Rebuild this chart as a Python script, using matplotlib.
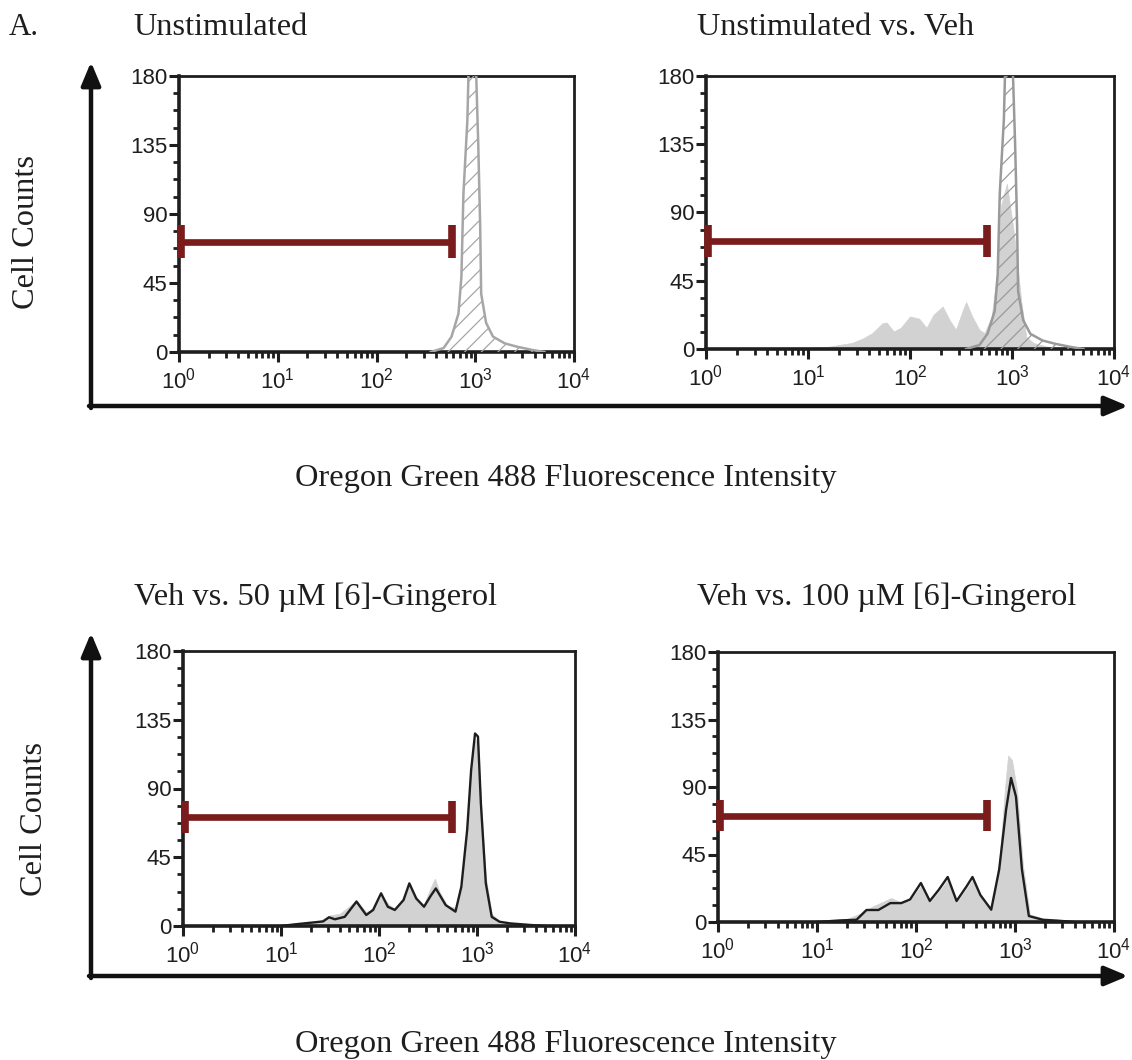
import numpy as np
import matplotlib
matplotlib.use('Agg')
import matplotlib.pyplot as plt
from matplotlib.patches import FancyArrowPatch, ArrowStyle
from matplotlib.ticker import FixedLocator, LogLocator, NullFormatter, FixedFormatter, MultipleLocator

W, H = 1132, 1060
plt.rcParams['mathtext.fontset'] = 'custom'
plt.rcParams['mathtext.rm'] = 'Liberation Sans'
plt.rcParams['mathtext.default'] = 'regular'
plt.rcParams['hatch.linewidth'] = 0.9

# ---------------- data (intensity, cell counts) ----------------
unstim_int = [355, 479, 575, 676, 724, 759, 832, 891, 977, 1023, 1072, 1122, 1148, 1288, 1514, 1995, 2630, 3800, 5012]
unstim_cnt = [0, 2.6, 10, 25, 49, 103, 151, 230, 230, 180, 136, 82, 38, 19, 10, 5.6, 3.5, 1.3, 0]

veh_int = [6.2, 15.8, 26.9, 34.7, 42.7, 53.7, 58.9, 69.2, 81.3, 100, 123, 145, 170, 209, 245, 282, 331, 355,
           407, 479, 537, 631, 724, 776, 891, 1047, 1230, 1380, 1622, 2291, 3715, 5012]
veh_cnt = [0, 1.5, 4, 7, 10.5, 17, 17.5, 11.6, 14, 21.5, 20, 14, 22.6, 28, 19, 12.7, 26, 31,
           21.5, 12.7, 10.5, 21, 54, 94, 109, 76, 32, 8, 4, 1.3, 0.4, 0]

veh50_int = [7.9, 15.8, 25.1, 31.6, 39.8, 50.1, 58.9, 74.1, 89.1, 107, 126, 148, 178, 204, 240, 288, 331, 372,
             417, 501, 603, 692, 794, 871, 955, 1023, 1096, 1230, 1413, 1698, 2512, 3981]
veh50_cnt = [0, 1, 3.5, 7, 8, 13, 17, 9, 12, 20, 14, 11, 19, 26, 17, 14, 24, 31,
             22, 13, 12, 28, 65, 100, 122, 120, 82, 32, 8, 3, 1, 0]

g50_int = [10, 13.5, 26.9, 30.9, 35.5, 44.7, 58.9, 74.1, 87.1, 105, 123, 145, 178, 204, 240, 288, 339, 380,
           479, 603, 692, 794, 871, 955, 1023, 1096, 1230, 1413, 1698, 2188, 3631, 5012]
g50_cnt = [0, 1, 3, 5.7, 4.4, 6, 16, 7.2, 10.5, 21.4, 12.6, 10.5, 17, 27.9, 18, 12.6, 20, 24.6,
           13.7, 9.4, 25.7, 63, 102, 126, 124, 80, 28, 6, 2.8, 1.7, 0.6, 0]

veh100_int = [7.9, 14.1, 20, 28.2, 35.5, 44.7, 56.2, 70.8, 87.1, 112, 138, 170, 209, 257, 324, 372, 447,
              575, 692, 794, 851, 933, 1047, 1202, 1413, 1995, 2818, 3981]
veh100_cnt = [0, 1, 2, 6, 10, 13, 16, 13, 14, 24, 13, 20, 28, 13, 22, 28, 17,
              9, 38, 90, 111, 108, 88, 38, 5, 2, 1, 0]

g100_int = [10, 16.6, 25.1, 31.6, 41.7, 55, 70.8, 87.1, 112, 138, 170, 209, 257, 324, 372, 447, 575,
            692, 813, 912, 1023, 1175, 1380, 1905, 2692, 3981]
g100_cnt = [0, 1, 1.5, 8, 8, 12.6, 12.6, 15, 26, 14, 21.5, 30, 14, 23.7, 30, 18, 8.2,
            35, 75, 96, 83.6, 35, 4, 1.5, 0.9, 0]

gate_lo = [1.05, 1.05, 1.05, 1.05]
gate_hi = [575, 570, 550, 525]
gate_y = [72, 71, 71.5, 71]

titles = ["Unstimulated", "Unstimulated vs. Veh",
          "Veh vs. 50 \u00b5M [6]-Gingerol", "Veh vs. 100 \u00b5M [6]-Gingerol"]
ytick_vals = [0, 45, 90, 135, 180]
xtick_vals = [1, 10, 100, 1000, 10000]
xtick_labels = [r'$10^{%d}$' % i for i in range(5)]

# ---------------- figure ----------------
fig = plt.figure(figsize=(W / 100, H / 100), dpi=100)
SERIF = 'Liberation Serif'
SANS = 'Liberation Sans'
DARK = '#1e1e1e'
RED = '#7a1c1c'
FS = 23.3


def px_axes(l, r, t, b):
    return fig.add_axes([l / W, 1 - b / H, (r - l) / W, (b - t) / H])


def style(ax):
    ax.set_xscale('log')
    ax.set_xlim(1, 1e4)
    ax.set_ylim(0, 180)
    ax.xaxis.set_major_locator(FixedLocator(xtick_vals))
    ax.xaxis.set_major_formatter(FixedFormatter(xtick_labels))
    ax.xaxis.set_minor_locator(LogLocator(base=10, subs=np.arange(2, 10)))
    ax.xaxis.set_minor_formatter(NullFormatter())
    ax.yaxis.set_major_locator(FixedLocator(ytick_vals))
    ax.yaxis.set_minor_locator(MultipleLocator(11.25))
    ax.set_yticklabels([str(v) for v in ytick_vals])
    for s in ['left', 'bottom']:
        ax.spines[s].set_linewidth(2.6)
        ax.spines[s].set_color(DARK)
    for s in ['top', 'right']:
        ax.spines[s].set_linewidth(2.0)
        ax.spines[s].set_color(DARK)
    ax.tick_params(which='major', direction='out', length=7.0, width=2.2, color=DARK,
                   labelsize=16, labelcolor=DARK)
    ax.tick_params(which='minor', direction='out', length=4.5, width=2.0, color=DARK)
    ax.tick_params(axis='y', which='major', pad=1.2)
    ax.tick_params(axis='x', which='major', pad=4.5)
    for lab in ax.get_xticklabels() + ax.get_yticklabels():
        lab.set_fontfamily(SANS)
    ax.set_facecolor('white')


def gate(ax, i):
    ax.plot([gate_lo[i], gate_hi[i]], [gate_y[i], gate_y[i]], color=RED, lw=4.8,
            solid_capstyle='butt', clip_on=False, zorder=5)
    for xv in (gate_lo[i], gate_hi[i]):
        ax.plot([xv, xv], [gate_y[i] - 10.5, gate_y[i] + 10.5], color=RED, lw=5.5,
                solid_capstyle='butt', clip_on=False, zorder=5)


def hatched(ax, edge):
    ax.fill_between(unstim_int, unstim_cnt, 0, facecolor='none', edgecolor=edge,
                    hatch='//', linewidth=0, zorder=3)
    ax.plot(unstim_int, unstim_cnt, color=edge, lw=1.8, zorder=3.5)


def filled(ax, xs, ys, color='#d2d2d2'):
    ax.fill_between(xs, ys, 0, facecolor=color, edgecolor=color, linewidth=0.5, zorder=2)


# Top-left
ax1 = px_axes(179, 574, 76, 352)
style(ax1)
hatched(ax1, '#a6a6a6')
gate(ax1, 0)

# Top-right
ax2 = px_axes(706, 1114, 76, 349)
style(ax2)
filled(ax2, veh_int, veh_cnt)
hatched(ax2, '#9a9a9a')
gate(ax2, 1)

# Bottom-left
ax3 = px_axes(183, 575, 651, 926)
style(ax3)
filled(ax3, veh50_int, veh50_cnt)
ax3.plot(g50_int, g50_cnt, color=DARK, lw=1.7, zorder=3)
gate(ax3, 2)

# Bottom-right
ax4 = px_axes(718, 1114, 652, 922)
style(ax4)
filled(ax4, veh100_int, veh100_cnt)
ax4.plot(g100_int, g100_cnt, color=DARK, lw=1.7, zorder=3)
gate(ax4, 3)

# ---------------- text ----------------
def ftext(x, y, s, **kw):
    fig.text(x / W, 1 - y / H, s, **kw)

ftext(9, 35, "A.", fontsize=FS - 1, family=SERIF, va='baseline', ha='left', color=DARK)
ftext(133, 35, titles[0], fontsize=FS, family=SERIF, va='baseline', ha='left', color=DARK)
ftext(697, 35, titles[1], fontsize=FS, family=SERIF, va='baseline', ha='left', color=DARK)
ftext(134, 605, titles[2], fontsize=FS, family=SERIF, va='baseline', ha='left', color=DARK)
ftext(697, 605, titles[3], fontsize=FS, family=SERIF, va='baseline', ha='left', color=DARK)

xl = "Oregon Green 488 Fluorescence Intensity"
ftext(566, 486, xl, fontsize=FS, family=SERIF, va='baseline', ha='center', color=DARK)
ftext(566, 1052, xl, fontsize=FS, family=SERIF, va='baseline', ha='center', color=DARK)
ftext(27, 232, "Cell Counts", fontsize=FS, family=SERIF, va='center', ha='center',
      rotation=90, color=DARK)
ftext(35, 819, "Cell Counts", fontsize=FS, family=SERIF, va='center', ha='center',
      rotation=90, color=DARK)

# ---------------- big axis arrows ----------------
astyle = ArrowStyle('-|>', head_length=1.0, head_width=0.42)


def farrow(p0, p1):
    a = FancyArrowPatch((p0[0] / W, 1 - p0[1] / H), (p1[0] / W, 1 - p1[1] / H),
                        transform=fig.transFigure, arrowstyle=astyle, mutation_scale=14,
                        color='#111111', lw=3.2, shrinkA=0, shrinkB=0)
    fig.add_artist(a)


for (xc, yc, ytop) in [(91, 406, 62), (91, 976, 633)]:
    farrow((xc, yc + 2), (xc, ytop))
    farrow((xc - 2, yc), (1128, yc))

fig.savefig('out.png', dpi=100, facecolor='white')
